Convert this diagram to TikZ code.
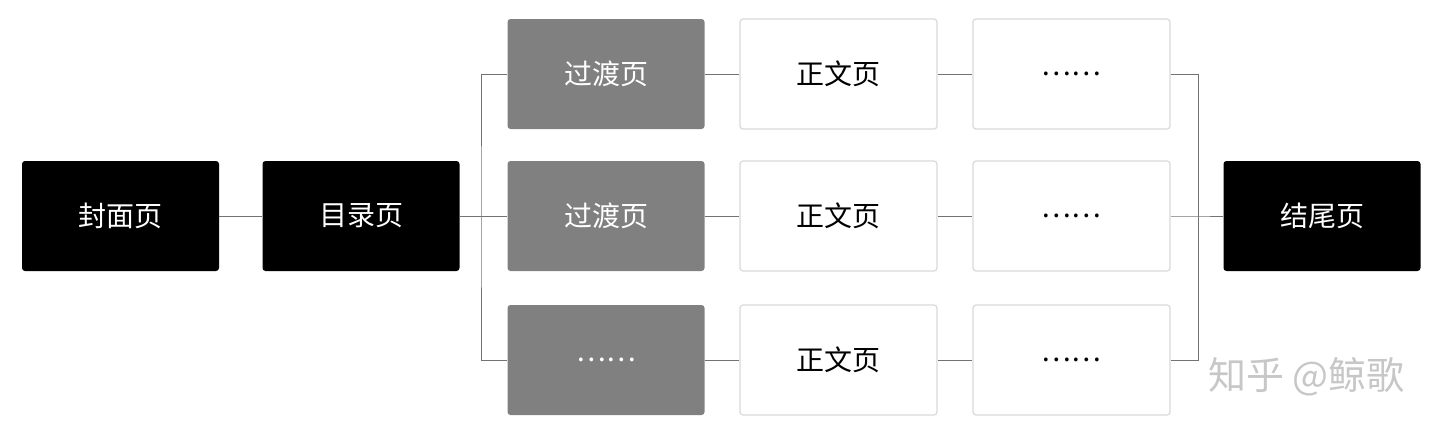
\documentclass[tikz,border=0pt]{standalone}
\usepackage{fontspec}
\setmainfont{Noto Sans CJK SC}
\begin{document}
\begin{tikzpicture}[x=1pt,y=-1pt,
  box/.style={rounded corners=3pt,minimum width=197pt,minimum height=110pt,inner sep=0pt,font=\fontsize{28}{32}\selectfont},
  dark/.style={box,fill=black,text=white},
  mid/.style={box,fill=black!50,text=white},
  light/.style={box,fill=white,draw=black!15,line width=1.2pt,text=black},
  ln/.style={draw=black!55,line width=1pt}]
\useasboundingbox (0,0) rectangle (1440,437);
\node[dark] (cover) at (120.5,216) {封面页};
\node[dark] (toc) at (361,216) {目录页};
\node[mid] (t1) at (606,74) {过渡页};
\node[mid] (t2) at (606,216) {过渡页};
\node[mid] (t3) at (606,360) {……};
\node[light] (b1) at (838.5,74) {正文页};
\node[light] (b2) at (838.5,216) {正文页};
\node[light] (b3) at (838.5,360) {正文页};
\node[light] (d1) at (1071.5,74) {……};
\node[light] (d2) at (1071.5,216) {……};
\node[light] (d3) at (1071.5,360) {……};
\node[dark] (end) at (1322,216) {结尾页};
\coordinate (L) at (481,216);
\coordinate (R) at (1198,216);
\draw[ln] (cover) -- (toc);
\draw[ln] (toc) -- (L);
\draw[ln] (t1.west) -| (L) |- (t3.west);
\draw[ln] (L) -- (t2.west);
\foreach \i in {1,2,3}{\draw[ln] (t\i) -- (b\i); \draw[ln] (b\i) -- (d\i);}
\draw[ln] (d1.east) -| (R) |- (d3.east);
\draw[ln] (d2.east) -- (R) -- (end);
\node[text=black!22,font=\fontsize{38}{42}\selectfont,anchor=east] (wm) at (1408,377) {知乎 @鲸歌};
\end{tikzpicture}
\end{document}
